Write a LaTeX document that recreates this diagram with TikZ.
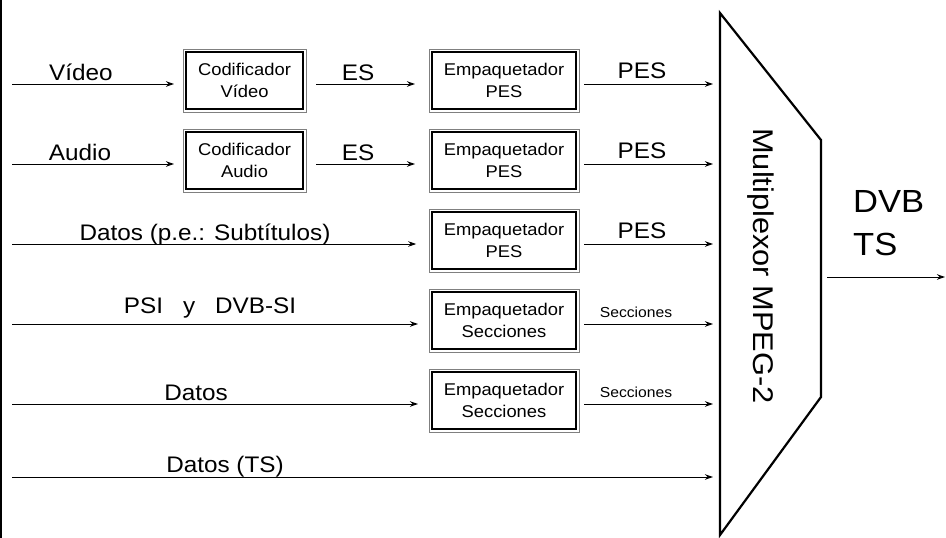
\documentclass[tikz,border=0pt]{standalone}
\usepackage{fontspec}
\setmainfont[FakeStretch=1.08]{Liberation Sans}
\usetikzlibrary{arrows.meta,calc}

\begin{document}
\begin{tikzpicture}[x=1pt,y=-1pt,
  arr/.style={line width=1pt,-{Stealth[length=8pt,width=5.5pt,inset=2.5pt]}},
  blk/.style={draw=black,line width=2.4pt,outer sep=0pt,inner sep=0pt,
    minimum height=56.6pt,align=center,font=\fontsize{17}{22.5}\selectfont},
  cod/.style={blk,minimum width=116.6pt},
  emp/.style={blk,minimum width=143.6pt},
  rim/.style={draw=gray,line width=0.9pt},
  lbl/.style={anchor=base,inner sep=0pt,font=\fontsize{22.5}{25}\selectfont},
  sml/.style={anchor=base,inner sep=0pt,font=\fontsize{14.5}{16}\selectfont},
  big/.style={anchor=base west,inner sep=0pt,font=\fontsize{32}{36}\selectfont}]

\useasboundingbox (0,0) rectangle (946,538);

% left frame bar
\draw[line width=2.4pt] (1.2,0) -- (1.2,538);

% multiplexer outline
\coordinate (mA) at (720,13);
\coordinate (mB) at (821,140);
\coordinate (mC) at (821,397);
\coordinate (mD) at (720,535);
\draw[line width=2.2pt,line join=miter] (mA) -- (mB) -- (mC) -- (mD) -- cycle;
\node[rotate=-90,inner sep=0pt,font=\fontsize{28.5}{32}\selectfont] (mux) at (761,266) {Multiplexor MPEG-2};

% processing blocks
\node[cod] (cv) at (244.5,80.5) {Codificador\\Vídeo};
\node[cod] (ca) at (244.5,160.5) {Codificador\\Audio};
\node[emp] (e1) at (504,80.5) {Empaquetador\\PES};
\node[emp] (e2) at (504,160.5) {Empaquetador\\PES};
\node[emp] (e3) at (504,240.5) {Empaquetador\\PES};
\node[emp] (e4) at (504,320.5) {Empaquetador\\Secciones};
\node[emp] (e5) at (504,400.5) {Empaquetador\\Secciones};
\foreach \n in {cv,ca,e1,e2,e3,e4,e5}
  \draw[rim] ($(\n.north west)+(-3.2,-3.2)$) rectangle ($(\n.south east)+(3.2,3.2)$);

% input stream origins
\coordinate (i1) at (12,84);
\coordinate (i2) at (12,164);
\coordinate (i3) at (12,244);
\coordinate (i4) at (12,324);
\coordinate (i5) at (12,404);
\coordinate (i6) at (12,477);

% inputs
\draw[arr,shorten >=12.2pt] (i1) -- (i1 -| cv.west);
\draw[arr,shorten >=12.2pt] (i2) -- (i2 -| ca.west);
\draw[arr,shorten >=16pt] (i3) -- (i3 -| e3.west);
\draw[arr,shorten >=14.2pt] (i4) -- (i4 -| e4.west);
\draw[arr,shorten >=14.2pt] (i5) -- (i5 -| e5.west);
\draw[arr,shorten >=7pt] (i6) -- (i6 -| mA);

% encoder to packetiser
\draw[arr,shorten <=13.2pt,shorten >=17.2pt] (i1 -| cv.east) -- (i1 -| e1.west);
\draw[arr,shorten <=13.2pt,shorten >=17.2pt] (i2 -| ca.east) -- (i2 -| e2.west);

% packetiser to multiplexer
\foreach \n/\i in {e1/i1,e2/i2,e3/i3,e4/i4,e5/i5}
  \draw[arr,shorten <=8.2pt,shorten >=7pt] (\i -| \n.east) -- (\i -| mA);

% multiplexer output
\coordinate (oS) at (827,277);
\coordinate (oE) at (945,277);
\draw[arr] (oS) -- (oE);
\node[big] (dvb) at (853,212) {DVB};
\node[big] (ts) at (853,255) {TS};

% stream labels
\node[lbl] (lv) at (81,80) {Vídeo};
\node[lbl] (la) at (80,160) {Audio};
\node[lbl] (les1) at (358,80) {ES};
\node[lbl] (les2) at (358,160) {ES};
\node[lbl] (lp1) at (642,78) {PES};
\node[lbl] (lp2) at (642,158) {PES};
\node[lbl] (lp3) at (642,238) {PES};
\node[lbl] (ld3) at (205,240) {Datos (p.e.: Subtítulos)};
\node[lbl] (lpsi) at (210,313) {PSI\hspace{20pt}y\hspace{20pt}DVB-SI};
\node[sml] (ls4) at (636,317) {Secciones};
\node[sml] (ls5) at (636,397) {Secciones};
\node[lbl] (ld5) at (196,400) {Datos};
\node[lbl] (ld6) at (225,472) {Datos (TS)};
\end{tikzpicture}
\end{document}
